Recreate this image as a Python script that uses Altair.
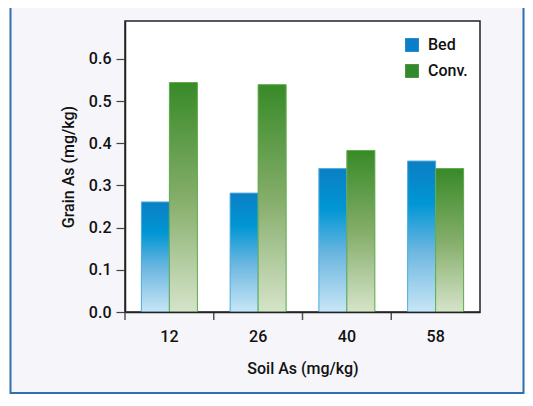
import altair as alt
import pandas as pd

soil = ["12", "26", "40", "58"]
bed = [0.261, 0.282, 0.340, 0.358]
conv = [0.544, 0.539, 0.383, 0.340]
series = ["Bed", "Conv."]
y_ticks = [0.0, 0.1, 0.2, 0.3, 0.4, 0.5, 0.6]

rows = []
for s, b, c in zip(soil, bed, conv):
    rows.append({"soil": s, "series": "Bed", "value": b})
    rows.append({"soil": s, "series": "Conv.", "value": c})
df = pd.DataFrame(rows)

W, H = 355, 291
FONT = "Roboto"
FS = 16

x_enc = alt.X("soil:N", sort=soil,
              scale=alt.Scale(paddingInner=0, paddingOuter=0),
              axis=alt.Axis(title="Soil As (mg/kg)", labelAngle=0, ticks=False,
                            domain=True, domainColor="#222", domainWidth=1.5,
                            labelPadding=16, titlePadding=16, zindex=1))
xo_enc = alt.XOffset("series:N", sort=series,
                     scale=alt.Scale(domain=series, paddingInner=0, paddingOuter=0.585))
y_enc = alt.Y("value:Q",
              scale=alt.Scale(domain=[0, 0.69], nice=False, zero=True),
              axis=alt.Axis(title="Grain As (mg/kg)", values=y_ticks, format=".1f",
                            tickSize=9, tickColor="#444", tickWidth=1.2,
                            domain=True, domainColor="#222", domainWidth=1.5,
                            grid=False, labelPadding=5, titlePadding=12, zindex=1))

base = alt.Chart(df)
one = alt.Chart(pd.DataFrame({"k": [0]}))

frame = one.mark_rect(fill="#f5f5fa", stroke="#2f6fb3", strokeWidth=2).encode(
    x=alt.value(-114.5), x2=alt.value(398.5), y=alt.value(-40), y2=alt.value(372))
plotbg = one.mark_rect(fill="white", stroke="#222", strokeWidth=1.5).encode(
    x=alt.value(0), x2=alt.value(W), y=alt.value(0), y2=alt.value(H))

legend_bars = base.mark_bar().encode(
    x=x_enc, xOffset=xo_enc, y=y_enc,
    color=alt.Color("series:N", sort=series,
                    scale=alt.Scale(domain=series, range=["#0a7ec6", "#338a2a"]),
                    legend=alt.Legend(title=None, orient="none", legendX=279, legendY=16,
                                      symbolType="square", symbolSize=190,
                                      symbolStrokeWidth=0, labelOffset=8,
                                      rowPadding=10, labelFontSize=FS,
                                      labelFontWeight=500,
                                      labelColor="#111", labelFont=FONT)))

bed_grad = alt.Gradient(gradient="linear", x1=0, y1=0, x2=0, y2=1, stops=[
    alt.GradientStop(offset=0, color="#0b7fc4"),
    alt.GradientStop(offset=0.28, color="#0096d4"),
    alt.GradientStop(offset=0.6, color="#6db7e0"),
    alt.GradientStop(offset=1, color="#c8e6f6")])
conv_grad = alt.Gradient(gradient="linear", x1=0, y1=0, x2=0, y2=1, stops=[
    alt.GradientStop(offset=0, color="#388a28"),
    alt.GradientStop(offset=0.5, color="#84ad69"),
    alt.GradientStop(offset=1, color="#d6e4ca")])

bed_bars = base.transform_filter(alt.datum.series == "Bed").mark_bar(
    color=bed_grad, stroke="#55aee0", strokeWidth=1).encode(
    x=x_enc, xOffset=xo_enc, y=y_enc)
conv_bars = base.transform_filter(alt.datum.series == "Conv.").mark_bar(
    color=conv_grad, stroke="#62ad4f", strokeWidth=1).encode(
    x=x_enc, xOffset=xo_enc, y=y_enc)

ticks = base.transform_filter(alt.datum.series == "Bed").mark_rule(
    color="#555", strokeWidth=1.5).encode(
    x=alt.X("soil:N", sort=soil, bandPosition=0),
    y=alt.value(H), y2=alt.value(H + 8))

chart = alt.layer(frame, plotbg, legend_bars, bed_bars, conv_bars, ticks).properties(
    width=W, height=H,
    background="white",
    autosize=alt.AutoSizeParams(type="none"),
    padding={"left": 117, "top": 13, "right": 45, "bottom": 82},
).configure_view(strokeWidth=0).configure_axis(
    labelFont=FONT, titleFont=FONT, labelFontSize=FS, titleFontSize=FS,
    labelFontWeight=500, titleFontWeight=500,
    labelColor="#111", titleColor="#111"
)

chart.save("out.html", embed_options={"renderer": "svg", "actions": False})
